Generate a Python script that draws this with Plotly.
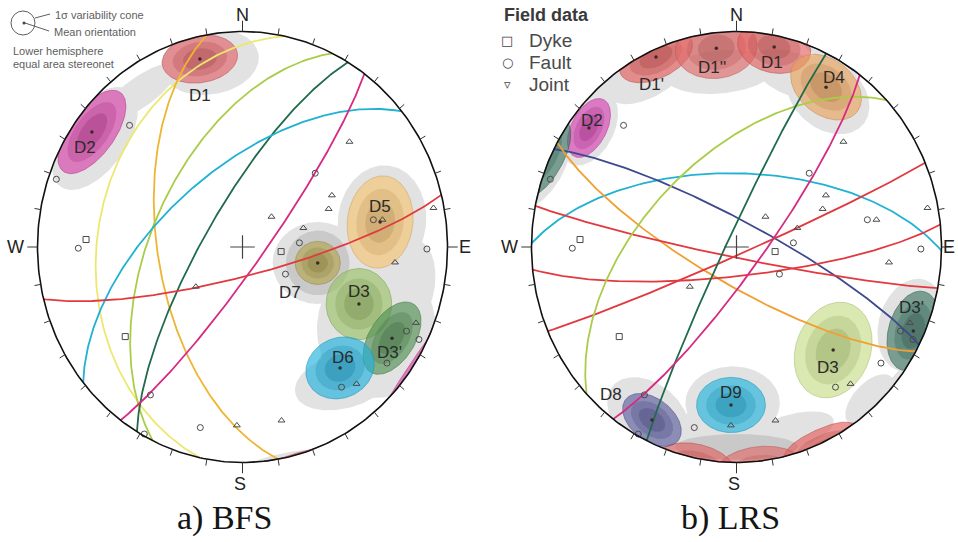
import numpy as np
import plotly.graph_objects as go

# ---------------------------------------------------------------------------
# Field data (same measurements on both nets): poles as trend / plunge, degrees
# ---------------------------------------------------------------------------
DYKE_TREND = [272.6, 96.4, 234.0]
DYKE_PLUNGE = [24.6, 74.6, 30.0]
FAULT_TREND = [315.7, 289.1, 269.6, 46.0, 86.0, 121.0, 78.8, 90.6, 116.0,
               116.5, 127.4, 143.4, 213.2, 193.8, 208.9]
FAULT_PLUNGE = [22.2, 4.4, 21.0, 49.2, 67.3, 70.1, 35.2, 11.0, 12.0,
                4.3, 12.3, 20.1, 19.1, 14.8, 1.0]
JOINT_TREND = [46.9, 61.2, 67.2, 45.2, 73.5, 79.5, 79.0, 95.5, 231.0,
               112.6, 181.9, 166.7, 138.8]
JOINT_PLUNGE = [29.3, 48.8, 52.4, 73.8, 64.7, 31.2, 5.7, 26.2, 66.1,
                9.2, 18.3, 18.4, 16.7]

# ---------------------------------------------------------------------------
# a) BFS
# ---------------------------------------------------------------------------
BFS_PLANE_STRIKE = [192, 170, 206, 211, 231, 36.5, 76]
BFS_PLANE_DIP = [30, 56, 54, 75, 60, 82, 79]

BFS_CONE_NAME = ["D1", "D2", "D5", "D7", "D3", "D3'", "D6"]
BFS_CONE_TREND = [346.6, 306.0, 80.2, 101.4, 115.0, 120.1, 139.7]
BFS_CONE_PLUNGE = [11.3, 10.1, 32.4, 59.3, 37.4, 16.8, 27.3]
BFS_CONE_MAJOR = [0.185, 0.23, 0.215, 0.11, 0.165, 0.19, 0.17]
BFS_CONE_MINOR = [0.11, 0.11, 0.16, 0.10, 0.16, 0.11, 0.14]
BFS_CONE_AZ = [8, 52, 82, 0, 90, 55, 20]

BFS_HALO_TREND = [349.5, 325.2, 305.0, 80.0, 102.2, 120.2, 141.0, 101.4, 101.4]
BFS_HALO_PLUNGE = [13.8, 13.5, 13.2, 31.5, 17.5, 25.4, 21.7, 59.3, 59.3]
BFS_HALO_MAJOR = [0.24, 0.22, 0.28, 0.26, 0.21, 0.32, 0.25, 0.22, 0.155]
BFS_HALO_MINOR = [0.15, 0.07, 0.15, 0.215, 0.12, 0.29, 0.13, 0.19, 0.15]
BFS_HALO_AZ = [8, 34, 52, 82, 80, 90, 15, 0, 0]
BFS_HALO_LEVEL = [0, 0, 0, 0, 0, 0, 0, 0, 1]

# ---------------------------------------------------------------------------
# b) LRS
# ---------------------------------------------------------------------------
LRS_PLANE_STRIKE = [271, 297, 119, 101, 84, 67, 227, 206, 37]
LRS_PLANE_DIP = [62, 80, 76, 86, 79, 87, 55, 86, 80]

LRS_CONE_NAME = ["D1'", "D1''", "D1", "D4", "D2", "D3", "D3'", "D8", "D9"]
LRS_CONE_TREND = [336.0, 353.9, 11.2, 30.5, 307.5, 135.4, 114.3, 207.2, 182.1]
LRS_CONE_PLUNGE = [3.9, 8.0, 6.0, 15.0, 10.2, 33.3, 6.0, 10.7, 27.5]
LRS_CONE_MAJOR = [0.19, 0.2, 0.18, 0.19, 0.15, 0.23, 0.19, 0.16, 0.168]
LRS_CONE_MINOR = [0.10, 0.14, 0.12, 0.13, 0.085, 0.18, 0.12, 0.10, 0.128]
LRS_CONE_AZ = [24, 6, -11, -35, 60, 65, 72, -35, 0]

LRS_HALO_TREND = [332.1, 354.4, 19.7, 32.3, 314.7, 307.6, 208.9, 191.8,
                  163.1, 137.5, 181.5, 113.0, 180.0]
LRS_HALO_PLUNGE = [10.6, 19.5, 16.4, 17.7, 3.4, 10.2, 11.9, 14.3,
                   11.2, 4.1, 28.4, 8.0, 8.0]
LRS_HALO_MAJOR = [0.22, 0.27, 0.22, 0.22, 0.12, 0.19, 0.22, 0.22,
                  0.22, 0.15, 0.23, 0.22, 0.3]
LRS_HALO_MINOR = [0.1, 0.1, 0.1, 0.16, 0.08, 0.12, 0.15, 0.07,
                  0.08, 0.08, 0.17, 0.16, 0.06]
LRS_HALO_AZ = [28, 5, -20, -35, 45, 60, -35, -10, 15, 45, 0, 72, 0]
LRS_HALO_LEVEL = [0, 0, 0, 0, 0, 0, 0, 0, 0, 0, 0, 0, 1]

# ---------------------------------------------------------------------------
# Styles
# ---------------------------------------------------------------------------
BFS_PLANE_COLORS = ["#ece86e", "#efb431", "#a9cd48", "#1f6b4c", "#1fb2d3",
                    "#d62a83", "#e2393f"]
LRS_PLANE_COLORS = ["#1fb2d3", "#3f4a8e", "#f0a033", "#e2393f", "#e2393f",
                    "#e2393f", "#a9cd48", "#1f6b4c", "#d62a83"]
BFS_CONE_COLORS = ["#e05f66", "#d43fa6", "#f4c470", "#b3a24c", "#98c064",
                   "#4f8f50", "#1fb0dc"]
LRS_CONE_COLORS = ["#e25b5b", "#e06a6a", "#e05f60", "#e9a35e", "#d43fb0",
                   "#c5dd85", "#3d7562", "#5a5c9e", "#1fb3dc"]
HALO_COLORS = ["#e2e2e2", "#c9c9c9"]
POINT_COLOR = "#4a4a4a"

BFS_LABEL_OFFSET = [(0.0, -0.17), (-0.034, -0.07), (0.0, 0.07), (-0.137, -0.139),
                    (0.0, 0.056), (-0.01, -0.065), (0.015, 0.05)]
LRS_LABEL_OFFSET = [(-0.02, -0.13), (-0.02, -0.088), (-0.01, -0.07), (0.04, 0.046),
                    (0.015, 0.037), (-0.024, -0.079), (-0.008, 0.11),
                    (-0.2, 0.116), (0.0, 0.056)]
# compass letter positions (net units) for the left and right nets
BFS_COMPASS = (("N", 0, 1.078), ("S", -0.01, -1.1), ("E", 1.087, 0), ("W", -1.105, 0))
LRS_COMPASS = (("N", 0, 1.078), ("S", -0.01, -1.1), ("E", 1.036, 0.0), ("W", -1.105, 0))

W, H = 958, 542
RX, RY = 205.0, 215.5          # net radius in pixels (x, y)
CY = 247.0
CX_L, CX_R = 242.5, 736.5
SPAN = 1.06
SANS = "Liberation Sans"
SQ2 = np.sqrt(2.0)


def rgba(hexcol, alpha, k=1.0):
    h = hexcol.lstrip("#")
    r, g, b = (int(h[i:i + 2], 16) for i in (0, 2, 4))
    r, g, b = (int(max(0, min(255, c * k))) for c in (r, g, b))
    return f"rgba({r},{g},{b},{alpha})"


def project(trend, plunge):
    """Lower-hemisphere equal-area (Schmidt) projection, unit primitive."""
    t = np.radians(np.asarray(trend, float))
    p = np.radians(np.asarray(plunge, float))
    r = SQ2 * np.sin((np.pi / 2 - p) / 2)
    return r * np.sin(t), r * np.cos(t)


def great_circle(strike, dip, n=181):
    s, d = np.radians(strike), np.radians(dip)
    lam = np.linspace(0, np.pi, n)
    sv = np.array([np.sin(s), np.cos(s), 0.0])
    dd = s + np.pi / 2
    dv = np.array([np.cos(d) * np.sin(dd), np.cos(d) * np.cos(dd), np.sin(d)])
    v = np.outer(np.cos(lam), sv) + np.outer(np.sin(lam), dv)
    trend = np.degrees(np.arctan2(v[:, 0], v[:, 1]))
    plunge = np.degrees(np.arcsin(np.clip(v[:, 2], -1, 1)))
    return project(trend, plunge)


def ellipse(cx, cy, a, b, az, n=140):
    t = np.linspace(0, 2 * np.pi, n)
    c, s = np.cos(np.radians(az)), np.sin(np.radians(az))
    ex, ey = a * np.cos(t), b * np.sin(t)
    return cx + ex * c - ey * s, cy + ex * s + ey * c


def clip_wrap(x, y):
    """Part inside the primitive, plus the part beyond it folded to the antipode."""
    r = np.hypot(x, y)
    k = np.minimum(1.0, 1.0 / r)
    inside = (x * k, y * k)
    wrap = None
    if r.max() > 1.0:
        rr = np.where(r > 1.0, 2.0 - r, 1.0)
        wrap = (-x / r * rr, -y / r * rr)
    return inside, wrap


def fill_trace(x, y, fillcolor, xa, ya, line_color=None, lw=0):
    return go.Scatter(x=list(x), y=list(y), mode="lines", fill="toself",
                      fillcolor=fillcolor,
                      line=dict(width=lw, color=line_color or fillcolor),
                      hoverinfo="skip", showlegend=False, xaxis=xa, yaxis=ya)


def to_paper(cx_px, x, y):
    return (cx_px + x * RX) / W, 1 - (CY - y * RY) / H


def add_net(fig, xa, ya, cx_px, compass, strikes, dips, plane_colors,
            cone_names, cone_tr, cone_pl, cone_a, cone_b, cone_az, cone_colors,
            halo_tr, halo_pl, halo_a, halo_b, halo_az, halo_lv, label_offsets):
    # density shading
    for lv in (0, 1):
        for tr, pl, a, b, az, l in zip(halo_tr, halo_pl, halo_a, halo_b, halo_az, halo_lv):
            if l != lv:
                continue
            cx, cy = project(tr, pl)
            ex, ey = ellipse(cx, cy, a, b, az)
            inside, wrap = clip_wrap(ex, ey)
            fig.add_trace(fill_trace(*inside, HALO_COLORS[lv], xa, ya))
            if wrap is not None:
                fig.add_trace(fill_trace(*wrap, HALO_COLORS[lv], xa, ya))

    # 1-sigma variability cones
    centers = []
    for tr, pl, a, b, az, col in zip(cone_tr, cone_pl, cone_a, cone_b, cone_az, cone_colors):
        cx, cy = project(tr, pl)
        centers.append((float(cx), float(cy)))
        for scale, alpha, k in ((1.0, 0.64, 1.0), (0.72, 0.30, 0.8), (0.45, 0.30, 0.7)):
            ex, ey = ellipse(cx, cy, a * scale, b * scale, az)
            inside, wrap = clip_wrap(ex, ey)
            lw = 0.8 if scale == 1.0 else 0
            edge = rgba(col, 0.7, 0.85)
            fig.add_trace(fill_trace(*inside, rgba(col, alpha, k), xa, ya, edge, lw))
            if wrap is not None:
                fig.add_trace(fill_trace(*wrap, rgba(col, alpha, k), xa, ya, edge, lw))

    # planes as great circles
    for s, d, col in zip(strikes, dips, plane_colors):
        gx, gy = great_circle(s, d)
        fig.add_trace(go.Scatter(x=gx, y=gy, mode="lines",
                                 line=dict(color=col, width=1.8),
                                 hoverinfo="skip", showlegend=False,
                                 xaxis=xa, yaxis=ya))

    # field poles
    for tr, pl, sym, size in ((DYKE_TREND, DYKE_PLUNGE, "square-open", 6),
                              (FAULT_TREND, FAULT_PLUNGE, "circle-open", 6),
                              (JOINT_TREND, JOINT_PLUNGE, "triangle-up-open", 6)):
        px_, py_ = project(tr, pl)
        fig.add_trace(go.Scatter(x=px_, y=py_, mode="markers",
                                 marker=dict(symbol=sym, size=size, color=POINT_COLOR,
                                             line=dict(color=POINT_COLOR, width=1)),
                                 hoverinfo="skip", showlegend=False,
                                 xaxis=xa, yaxis=ya))

    # mean orientations
    fig.add_trace(go.Scatter(x=[c[0] for c in centers], y=[c[1] for c in centers],
                             mode="markers", marker=dict(size=3.5, color="#3a2a2a"),
                             hoverinfo="skip", showlegend=False, xaxis=xa, yaxis=ya))

    # primitive circle
    t = np.linspace(0, 2 * np.pi, 361)
    fig.add_trace(go.Scatter(x=np.sin(t), y=np.cos(t), mode="lines",
                             line=dict(color="#111111", width=1.6),
                             hoverinfo="skip", showlegend=False, xaxis=xa, yaxis=ya))
    # 10-degree ticks
    tx, ty = [], []
    for az in range(0, 360, 10):
        L = 1.05 if az % 90 == 0 else 1.03
        a = np.radians(az)
        tx += [np.sin(a), L * np.sin(a), None]
        ty += [np.cos(a), L * np.cos(a), None]
    fig.add_trace(go.Scatter(x=tx, y=ty, mode="lines",
                             line=dict(color="#333333", width=1),
                             hoverinfo="skip", showlegend=False, xaxis=xa, yaxis=ya))
    # centre cross
    fig.add_trace(go.Scatter(x=[-0.06, 0.06, None, 0, 0], y=[0, 0, None, -0.055, 0.055],
                             mode="lines", line=dict(color="#444444", width=1.2),
                             hoverinfo="skip", showlegend=False, xaxis=xa, yaxis=ya))

    ann = []
    for name, (cx, cy), (dx, dy) in zip(cone_names, centers, label_offsets):
        ann.append(dict(x=cx + dx, y=cy + dy, xref=xa, yref=ya, text=name,
                        showarrow=False, font=dict(family=SANS, size=17, color="#2b2b2b")))
    # compass letters sit outside the axis range, so place them on the page
    for txt, x, y in compass:
        ppx, ppy = to_paper(cx_px, x, y)
        ann.append(dict(x=ppx, y=ppy, xref="paper", yref="paper", text=txt,
                        showarrow=False, xanchor="center", yanchor="middle",
                        font=dict(family=SANS, size=18, color="#222222")))
    return ann


fig = go.Figure()
ann = []
ann += add_net(fig, "x", "y", CX_L, BFS_COMPASS,
               BFS_PLANE_STRIKE, BFS_PLANE_DIP, BFS_PLANE_COLORS,
               BFS_CONE_NAME, BFS_CONE_TREND, BFS_CONE_PLUNGE, BFS_CONE_MAJOR,
               BFS_CONE_MINOR, BFS_CONE_AZ, BFS_CONE_COLORS,
               BFS_HALO_TREND, BFS_HALO_PLUNGE, BFS_HALO_MAJOR, BFS_HALO_MINOR,
               BFS_HALO_AZ, BFS_HALO_LEVEL, BFS_LABEL_OFFSET)
ann += add_net(fig, "x2", "y2", CX_R, LRS_COMPASS,
               LRS_PLANE_STRIKE, LRS_PLANE_DIP, LRS_PLANE_COLORS,
               LRS_CONE_NAME, LRS_CONE_TREND, LRS_CONE_PLUNGE, LRS_CONE_MAJOR,
               LRS_CONE_MINOR, LRS_CONE_AZ, LRS_CONE_COLORS,
               LRS_HALO_TREND, LRS_HALO_PLUNGE, LRS_HALO_MAJOR, LRS_HALO_MINOR,
               LRS_HALO_AZ, LRS_HALO_LEVEL, LRS_LABEL_OFFSET)


def px(xp):
    return xp / W


def py(yp):
    return 1 - yp / H


# key of the left net
GREY = "#5e5e5e"
for txt, x, y in (("1σ variability cone", 53, 15), ("Mean orientation", 52, 32),
                  ("Lower hemisphere", 11, 51), ("equal area stereonet", 11, 64)):
    ann.append(dict(x=px(x), y=py(y), xref="paper", yref="paper", text=txt,
                    xanchor="left", yanchor="middle", showarrow=False,
                    font=dict(family=SANS, size=11, color=GREY)))
shapes = [
    dict(type="circle", xref="paper", yref="paper", x0=px(11), x1=px(35),
         y0=py(35), y1=py(11), line=dict(color=GREY, width=1)),
    dict(type="line", xref="paper", yref="paper", x0=px(35), y0=py(18),
         x1=px(50), y1=py(14), line=dict(color=GREY, width=1)),
    dict(type="line", xref="paper", yref="paper", x0=px(25), y0=py(23),
         x1=px(49), y1=py(31), line=dict(color=GREY, width=1)),
    dict(type="circle", xref="paper", yref="paper", x0=px(22.5), x1=px(25.5),
         y0=py(24.5), y1=py(21.5), fillcolor="#444444", line=dict(width=0)),
]

# key of the right net
ann.append(dict(x=px(502), y=py(15), xref="paper", yref="paper", text="<b>Field data</b>",
                xanchor="left", yanchor="middle", showarrow=False,
                font=dict(family=SANS, size=18, color="#3a3a3a")))
for glyph, txt, y in (("□", "Dyke", 40), ("○", "Fault", 62), ("▿", "Joint", 85)):
    ann.append(dict(x=px(507), y=py(y), xref="paper", yref="paper", text=glyph,
                    xanchor="center", yanchor="middle", showarrow=False,
                    font=dict(family="DejaVu Sans", size=13, color="#444444")))
    ann.append(dict(x=px(527), y=py(y), xref="paper", yref="paper", text=txt,
                    xanchor="left", yanchor="middle", showarrow=False,
                    font=dict(family=SANS, size=19, color="#4a4a4a")))

# panel captions
for txt, x in (("a) BFS", 224), ("b) LRS", 730)):
    ann.append(dict(x=px(x), y=py(518), xref="paper", yref="paper", text=txt,
                    xanchor="center", yanchor="middle", showarrow=False,
                    font=dict(family="Liberation Serif", size=34, color="#151515")))

ydom = [1 - (CY + SPAN * RY) / H, 1 - (CY - SPAN * RY) / H]
axis_common = dict(range=[-SPAN, SPAN], visible=False, showgrid=False,
                   zeroline=False, fixedrange=True)
fig.update_layout(
    width=W, height=H, autosize=False,
    margin=dict(l=0, r=0, t=0, b=0),
    paper_bgcolor="white", plot_bgcolor="white",
    showlegend=False, hovermode=False,
    xaxis=dict(domain=[(CX_L - SPAN * RX) / W, (CX_L + SPAN * RX) / W], anchor="y", **axis_common),
    yaxis=dict(domain=ydom, anchor="x", **axis_common),
    xaxis2=dict(domain=[(CX_R - SPAN * RX) / W, (CX_R + SPAN * RX) / W], anchor="y2", **axis_common),
    yaxis2=dict(domain=ydom, anchor="x2", **axis_common),
    annotations=ann, shapes=shapes,
)

fig.write_html("out.html")
